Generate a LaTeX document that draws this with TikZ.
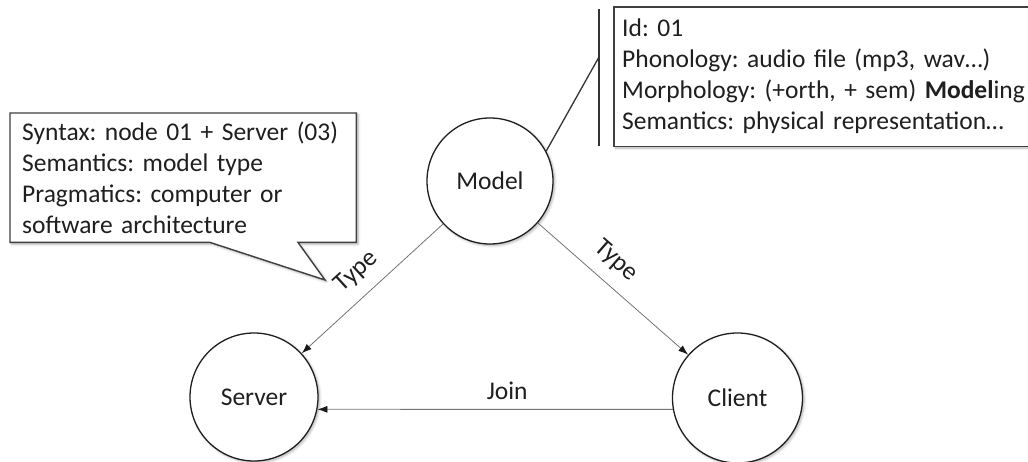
\documentclass[tikz,border=0pt]{standalone}
\usepackage{fontspec}
\setmainfont{Carlito}
\usetikzlibrary{arrows.meta,calc,backgrounds,shadows.blur}

\tikzset{
  every node/.style={font=\fontsize{25.5}{31}\selectfont\frenchspacing, text=black!88},
  softshadow/.style={blur shadow={shadow xshift=1.6pt, shadow yshift=-1.6pt,
      shadow opacity=30, shadow blur steps=6, shadow blur radius=2.5pt}},
  entity/.style={circle, draw=black!88, line width=1.3pt, fill=white,
      inner sep=0pt, softshadow},
  relation/.style={draw=black!55, line width=0.8pt,
      -{Latex[length=10pt,width=7pt,color=black!90]}},
  notetext/.style={rectangle, align=left, inner ysep=0pt},
  noteline/.style={draw=black!75, line width=1.4pt, fill=white, softshadow},
  leader/.style={draw=black!80, line width=1.3pt},
}

\begin{document}
\begin{tikzpicture}[x=1pt,y=-1pt]
\useasboundingbox (0,0) rectangle (1028,462);
\clip (0,0) rectangle (1028,462);

% concept nodes
\node[entity, minimum size=126pt] (model)  at (490,181)   {Model};
\node[entity, minimum size=128pt] (server) at (254,397)   {Server};
\node[entity, minimum size=130pt] (client) at (737.5,398) {Client};

% relations between the concepts
\draw[relation] (model) -- node[sloped, above=9pt, pos=0.5] {Type} (server);
\draw[relation] (model) -- node[sloped, above=9pt, pos=0.42] {Type} (client);
\draw[relation] (client.190.8) -- node[above=6pt, pos=0.466] {Join} (server.349.2);

% callout attached to the left Type relation
\node[notetext, minimum width=346pt, minimum height=129pt, text width=322pt,
      inner xsep=12pt, anchor=north west] (syntaxnote) at (10,113)
  {Syntax: node 01 + Server (03)\\Semantics: model type\\Pragmatics: computer or\\software architecture};
\coordinate (syntaxtip) at (325,280);
\begin{scope}[on background layer]
  \draw[noteline] (syntaxnote.north west) -- (syntaxnote.north east)
    -- (syntaxnote.south east) -- ($(syntaxnote.south west)+(288,0)$)
    -- (syntaxtip) -- ($(syntaxnote.south west)+(200,0)$)
    -- (syntaxnote.south west) -- cycle;
\end{scope}

% line callout with accent bar attached to Model
\node[notetext, minimum width=430pt, minimum height=139pt, text width=414pt,
      inner xsep=8pt, anchor=north west] (lexnote) at (614,7)
  {Id: 01\\Phonology: audio file (mp3, wav…)\\Morphology: (+orth, + sem) \textbf{Model}ing\\Semantics: physical representation…};
\begin{scope}[on background layer]
  \draw[noteline] (lexnote.north west) rectangle (lexnote.south east);
\end{scope}
\coordinate (bartop)  at ($(lexnote.north west)+(-15,2)$);
\coordinate (barbot)  at ($(lexnote.south west)+(-15,0)$);
\coordinate (barjoin) at ($(lexnote.north west)+(-15,50)$);
\draw[leader] (bartop) -- (barbot);
\draw[leader] (barjoin) -- (model.28.5);
\end{tikzpicture}
\end{document}
